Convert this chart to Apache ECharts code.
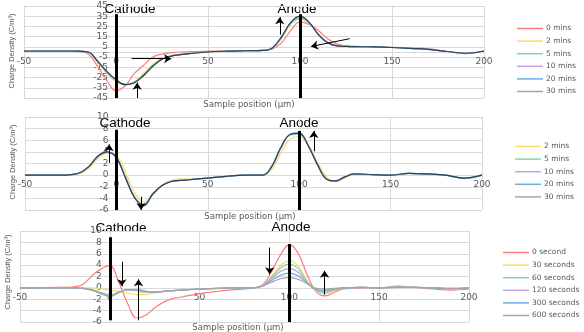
<!DOCTYPE html>
<html>
<head>
<meta charset="utf-8">
<script src="https://cdn.jsdelivr.net/npm/echarts@6/dist/echarts.min.js"></script>
<style>
  html, body { margin: 0; padding: 0; background: #fff; }
  #chart { width: 584px; height: 332px; }
</style>
</head>
<body>
<div id="chart"></div>
<script>
// sample positions (µm), shared by every curve
const positions = [-50,-40,-30,-25,-20,-15,-10,-5,0,5,10,15,20,25,30,35,40,50,60,70,80,85,90,95,100,105,110,115,120,125,130,140,150,160,170,180,190,200];

// panel 1
const p1Names = ['0 mins','2 mins','5 mins','10 mins','20 mins','30 mins'];
const p1_0min  = [1,1,1,1,0.5,-2,-14,-28,-38,-33,-21,-13,-5,-2,-0.8,0,0.3,0.8,1,1.2,1.5,3,9,21,29.5,27,21,13,8,6,5.5,5,4.5,4,3,0.5,-1.5,1];
const p1_2min  = [1,1,1,1,0.7,-0.5,-10,-21,-29,-32,-29,-21,-12,-6,-3.5,-2.2,-1.3,0.1,0.8,1.2,1.5,3.6,13,27,33,28.5,17.5,9.5,6.3,5.6,5.3,5,4.4,3.6,2.6,0.5,-1.3,1];
const p1_5min  = [1,1,1,1,0.7,-0.3,-9.5,-20,-28,-31.5,-29.5,-22,-13,-6.5,-3.8,-2.4,-1.4,0,0.8,1.2,1.5,3.8,14,28,32.5,28,17,9.2,6.1,5.5,5.2,5,4.4,3.5,2.5,0.5,-1.2,1];
const p1_10min = [1,1,1,1,0.8,-0.1,-9.2,-19.5,-27.5,-32,-30,-23,-13.5,-7,-4,-2.5,-1.5,0,0.8,1.2,1.5,3.9,14.5,28.5,34,28.8,17,9,6,5.5,5.2,5,4.4,3.5,2.5,0.5,-1.2,1];
const p1_20min = [1,1,1,1,0.8,0,-9,-19.2,-27.2,-32,-30,-23,-13.8,-7,-4,-2.5,-1.5,0,0.8,1.2,1.5,4,14.8,28.8,34.5,29,17,9,6,5.5,5.2,5,4.4,3.5,2.5,0.5,-1.2,1];
const p1_30min = [1,1,1,1,0.8,0,-9,-19,-27,-32,-30,-23,-14,-7,-4,-2.5,-1.5,0,0.8,1.2,1.5,4,15,29,35,29,17,9,6,5.5,5.2,5,4.4,3.5,2.5,0.5,-1.2,1];

// panel 2
const p2Names = ['2 mins','5 mins','10 mins','20 mins','30 mins'];
const p2_2min  = [0,0,0,0.1,0.3,1.2,2.9,3.8,3.4,0.5,-3.0,-4.6,-3.4,-1.7,-0.9,-0.7,-0.7,-0.5,-0.2,0,0,1.0,3.8,6.2,6.6,5.2,2.2,-0.3,-1.1,-0.5,0.1,0.1,0,0.3,0.2,0,-0.5,0];
const p2_5min  = [0,0,0,0.1,0.4,1.4,3.2,3.9,3.1,-0.3,-3.8,-5.3,-3.3,-1.8,-1.1,-0.9,-0.8,-0.5,-0.2,0,0,1.4,4.6,6.9,7.1,5.1,1.9,-0.6,-1.0,-0.3,0.2,0.1,0,0.3,0.2,0,-0.6,0];
const p2_10min = [0,0,0,0.1,0.4,1.5,3.3,4.0,3.0,-0.4,-3.8,-5.1,-3.2,-1.8,-1.1,-0.9,-0.8,-0.5,-0.2,0,0,1.5,4.7,7.0,7.2,5.0,1.8,-0.7,-1.0,-0.3,0.2,0.1,0,0.3,0.2,0,-0.5,0];
const p2_20min = [0,0,0,0.1,0.4,1.5,3.3,4.0,3.0,-0.5,-3.9,-5.0,-3.1,-1.8,-1.1,-0.9,-0.8,-0.5,-0.2,0,0,1.5,4.8,7.0,7.3,5.0,1.8,-0.7,-1.0,-0.3,0.2,0.1,0,0.3,0.2,0,-0.5,0];
const p2_30min = [0,0,0,0.1,0.4,1.5,3.3,4.0,3.0,-0.5,-3.9,-5.2,-3.2,-1.8,-1.1,-0.9,-0.8,-0.5,-0.2,0,0,1.5,4.8,7.0,7.2,5.0,1.8,-0.7,-1.0,-0.3,0.2,0.1,0,0.3,0.2,0,-0.5,0];

// panel 3
const p3Names = ['0 second','30 seconds','60 seconds','120 seconds','300 seconds','600 seconds'];
const p3_0s   = [0,0,0.1,0.1,0.2,0.6,2.1,3.3,3.9,1.0,-2.8,-5.3,-4.8,-3.5,-2.5,-1.9,-1.6,-1.0,-0.6,-0.3,0,0.5,2.8,5.8,7.6,6.0,2.2,-0.7,-1.4,-0.8,-0.2,0,0,0.3,0.1,-0.2,-0.4,-0.2];
const p3_30s  = [0,0,0,0,0,0,0,-0.2,-0.4,-0.6,-0.9,-1.2,-1.2,-0.9,-0.6,-0.5,-0.4,-0.2,-0.1,0,0,0.4,2.0,3.9,4.8,3.8,1.2,-0.6,-1.0,-0.5,-0.1,0.1,0,0.2,0.1,0,-0.2,0];
const p3_60s  = [0,0,0,0,0,-0.1,-0.3,-0.8,-1.2,-0.8,-0.4,-0.5,-0.8,-0.8,-0.6,-0.5,-0.4,-0.2,-0.1,0,0,0.4,1.8,3.5,4.2,3.3,1.0,-0.5,-0.8,-0.4,-0.1,0.1,0,0.2,0.1,0,-0.2,0];
const p3_120s = [0,0,0,0,0,-0.1,-0.4,-0.9,-1.4,-0.8,-0.3,-0.4,-0.7,-0.8,-0.6,-0.5,-0.4,-0.2,-0.1,0,0,0.4,1.6,2.9,3.4,2.7,0.9,-0.4,-0.6,-0.3,0,0.1,0,0.2,0.1,0,-0.2,0];
const p3_300s = [0,0,0,0,0,-0.1,-0.4,-1.0,-1.5,-0.8,-0.3,-0.3,-0.6,-0.7,-0.6,-0.5,-0.4,-0.2,-0.1,0,0,0.3,1.3,2.2,2.6,2.1,0.8,-0.3,-0.4,-0.2,0,0.1,0,0.1,0.1,0,-0.1,0];
const p3_600s = [0,0,0,0,0,-0.1,-0.4,-1.0,-1.5,-0.8,-0.3,-0.3,-0.6,-0.7,-0.6,-0.5,-0.4,-0.2,-0.1,0,0,0.3,1.0,1.6,1.8,1.5,0.7,-0.1,-0.2,-0.1,0,0.1,0,0.1,0.1,0,-0.1,0];

// electrode bars [x, yBottom, yTop] and arrows [x1, y1, x2, y2] (head at x2,y2)
const p1Bars = [[0,-45,37],[100,-45,37]];
const p2Bars = [[0,-6,7.8],[100,-6,7.6]];
const p3Bars = [[0,-5.7,8.9],[100,-6,7.7]];
const p1Arrows = [[11.5,-45,11.5,-30],[8.5,-6.5,30,-6.5],[89,17,89,34],[127,13,106,5.4]];
const p2Arrows = [[-4,2.1,-4,5.3],[13.5,-3.7,13.5,-6],[108,4.1,108,7.6]];
const p3Arrows = [[6.7,4.6,6.7,0.3],[16,-5.7,16,1.5],[89,7.1,89,2.4],[119.6,-1.2,119.6,3]];

const xRange = [-50, 200, 50];
const p1YRange = [-45, 45, 10];
const p2YRange = [-6, 10, 2];
const p3YRange = [-6, 10, 2];

const colors = ['#ff7b7b','#ffd966','#7fd6a4','#c5a3e0','#6aaee0','#a6a6a6'];
const darkLine = '#2f4152';

const grids = [
  { left: 24, top: 6, width: 460, height: 92 },
  { left: 25, top: 117, width: 457, height: 93 },
  { left: 20, top: 231, width: 449, height: 91 }
];

const chart = echarts.init(document.getElementById('chart'));

function pairs(vals) {
  return positions.map((x, i) => [x, vals[i]]);
}

function markers(bars, arrows) {
  const data = [];
  bars.forEach(b => {
    data.push([
      { coord: [b[0], b[1]], symbol: 'none', lineStyle: { width: 3, color: '#000', type: 'solid' } },
      { coord: [b[0], b[2]], symbol: 'none' }
    ]);
  });
  arrows.forEach(a => {
    data.push([
      { coord: [a[0], a[1]], symbol: 'none', lineStyle: { width: 1, color: '#000', type: 'solid' } },
      { coord: [a[2], a[3]], symbol: 'arrow', symbolSize: 7 }
    ]);
  });
  return {
    silent: true,
    animation: false,
    label: { show: false },
    emphasis: { disabled: true },
    lineStyle: { color: '#000', type: 'solid' },
    data: data
  };
}

function lineSeries(name, vals, idx, color, mark) {
  const s = {
    name: name,
    type: 'line',
    xAxisIndex: idx,
    yAxisIndex: idx,
    data: pairs(vals),
    smooth: 0.4,
    symbol: 'none',
    lineStyle: { width: 1.2, color: color },
    itemStyle: { color: color },
    emphasis: { disabled: true }
  };
  if (mark) s.markLine = mark;
  return s;
}

const series = [
  lineSeries(p1Names[0], p1_0min, 0, colors[0]),
  lineSeries(p1Names[1], p1_2min, 0, colors[1]),
  lineSeries(p1Names[2], p1_5min, 0, colors[2]),
  lineSeries(p1Names[3], p1_10min, 0, colors[3]),
  lineSeries(p1Names[4], p1_20min, 0, colors[4]),
  lineSeries(p1Names[5], p1_30min, 0, darkLine, markers(p1Bars, p1Arrows)),

  lineSeries(p2Names[0], p2_2min, 1, colors[1]),
  lineSeries(p2Names[1], p2_5min, 1, colors[2]),
  lineSeries(p2Names[2], p2_10min, 1, colors[3]),
  lineSeries(p2Names[3], p2_20min, 1, colors[4]),
  lineSeries(p2Names[4], p2_30min, 1, darkLine, markers(p2Bars, p2Arrows)),

  lineSeries(p3Names[0], p3_0s, 2, colors[0]),
  lineSeries(p3Names[1], p3_30s, 2, colors[1]),
  lineSeries(p3Names[2], p3_60s, 2, colors[2]),
  lineSeries(p3Names[3], p3_120s, 2, colors[3]),
  lineSeries(p3Names[4], p3_300s, 2, colors[4]),
  lineSeries(p3Names[5], p3_600s, 2, colors[5], markers(p3Bars, p3Arrows))
];

const tickFont = { fontFamily: 'DejaVu Sans', fontSize: 9, color: '#595959' };

// axes cross at zero (Excel style): shift each axis onto the other's zero
function xAx(idx, yr) {
  const zeroUp = grids[idx].height * (0 - yr[0]) / (yr[1] - yr[0]);
  return {
    gridIndex: idx, type: 'value', min: xRange[0], max: xRange[1], interval: xRange[2],
    offset: -zeroUp,
    axisLine: { show: true, onZero: false, lineStyle: { color: '#d9d9d9' } },
    axisTick: { show: false },
    axisLabel: Object.assign({ margin: 5 }, tickFont),
    splitLine: { show: true, lineStyle: { color: '#d9d9d9', width: 1 } }
  };
}
function yAx(idx, yr) {
  const zeroRight = grids[idx].width * (0 - xRange[0]) / (xRange[1] - xRange[0]);
  return {
    gridIndex: idx, type: 'value', min: yr[0], max: yr[1], interval: yr[2],
    offset: -zeroRight,
    axisLine: { show: false, onZero: false },
    axisTick: { show: false },
    axisLabel: Object.assign({ margin: 8 }, tickFont),
    splitLine: { show: true, lineStyle: { color: '#d9d9d9', width: 1 } }
  };
}

function legendData(names, colorList) {
  return names.map((n, i) => ({
    name: n,
    itemStyle: { color: colorList[i] }
  }));
}

function legendCfg(names, colorList, left, top) {
  return {
    orient: 'vertical', left: left, top: top,
    icon: 'rect', itemWidth: 26, itemHeight: 1.5, itemGap: 3.6,
    padding: 0, selectedMode: false,
    textStyle: { fontFamily: 'DejaVu Sans', fontSize: 7.5, lineHeight: 9, color: '#595959', padding: [0, 0, 0, -2] },
    data: legendData(names, colorList)
  };
}

const labelTxt = (text, x, y, size, color, font, rot) => ({
  type: 'text', x: x, y: y, rotation: rot || 0, silent: true,
  style: { text: text, fontSize: size, fill: color, fontFamily: font, align: 'center', verticalAlign: 'middle' }
});

chart.setOption({
  animation: false,
  backgroundColor: '#fff',
  grid: grids,
  xAxis: [xAx(0, p1YRange), xAx(1, p2YRange), xAx(2, p3YRange)],
  yAxis: [yAx(0, p1YRange), yAx(1, p2YRange), yAx(2, p3YRange)],
  legend: [
    legendCfg(p1Names, colors, 517, 24),
    legendCfg(p2Names, colors.slice(1), 515, 142),
    legendCfg(p3Names, colors, 503, 248)
  ],
  graphic: [
    labelTxt('Cathode', 130, 9, 13.5, '#000', 'Liberation Sans'),
    labelTxt('Anode', 297, 9, 13.5, '#000', 'Liberation Sans'),
    labelTxt('Cathode', 125, 123, 13.5, '#000', 'Liberation Sans'),
    labelTxt('Anode', 299, 123, 13.5, '#000', 'Liberation Sans'),
    labelTxt('Cathode', 121, 228, 13.5, '#000', 'Liberation Sans'),
    labelTxt('Anode', 291, 227, 13.5, '#000', 'Liberation Sans'),
    labelTxt('Sample position (µm)', 249, 105, 8.5, '#595959', 'DejaVu Sans'),
    labelTxt('Sample position (µm)', 250, 217, 8.5, '#595959', 'DejaVu Sans'),
    labelTxt('Sample position (µm)', 238, 328, 8.5, '#595959', 'DejaVu Sans'),
    labelTxt('Charge Density (C/m³)', 12, 51, 7.5, '#595959', 'Liberation Sans', Math.PI / 2),
    labelTxt('Charge Density (C/m³)', 13, 162, 7.5, '#595959', 'Liberation Sans', Math.PI / 2),
    labelTxt('Charge Density (C/m³)', 8, 272, 7.5, '#595959', 'Liberation Sans', Math.PI / 2)
  ],
  series: series
});
</script>
</body>
</html>
